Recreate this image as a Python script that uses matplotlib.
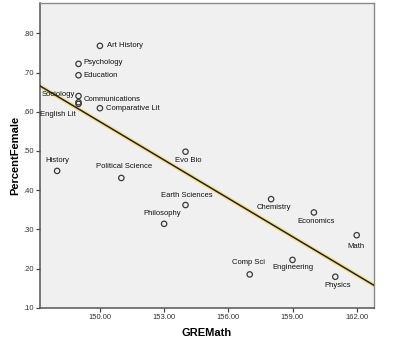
import matplotlib
matplotlib.use('Agg')
import matplotlib.pyplot as plt
import numpy as np

plt.rcParams['font.family'] = ['Liberation Sans', 'DejaVu Sans']

# Fields: GRE math score vs share of female students
fields = ['Art History', 'Psychology', 'Education', 'Sociology', 'Communications',
          'English Lit', 'Comparative Lit', 'Evo Bio', 'History', 'Political Science',
          'Earth Sciences', 'Philosophy', 'Chemistry', 'Economics', 'Math',
          'Comp Sci', 'Engineering', 'Physics']
gre_math = [150.0, 149.0, 149.0, 149.0, 149.0, 149.0, 150.0, 154.0, 148.0, 151.0,
            154.0, 153.0, 158.0, 160.0, 162.0, 157.0, 159.0, 161.0]
pct_female = [0.768, 0.722, 0.693, 0.640, 0.624, 0.620, 0.609, 0.498, 0.449, 0.431,
              0.362, 0.314, 0.377, 0.343, 0.285, 0.185, 0.222, 0.179]

x_ticks = [150, 153, 156, 159, 162]
y_ticks = [0.10, 0.20, 0.30, 0.40, 0.50, 0.60, 0.70, 0.80]

# label placement (offset in pixels, alignment)
label_pos = {
    'Art History': ((7, 0), 'left'),
    'Psychology': ((5, 1), 'left'),
    'Education': ((5, 0), 'left'),
    'Sociology': ((-3, 2), 'right'),
    'Communications': ((5, 3), 'left'),
    'English Lit': ((-3, -11), 'right'),
    'Comparative Lit': ((6, 0), 'left'),
    'Evo Bio': ((3, -8.5), 'center'),
    'History': ((0, 10.5), 'center'),
    'Political Science': ((3, 11), 'center'),
    'Earth Sciences': ((1, 10), 'center'),
    'Philosophy': ((-2, 10.5), 'center'),
    'Chemistry': ((3, -8.5), 'center'),
    'Economics': ((2, -9.5), 'center'),
    'Math': ((-1, -11), 'center'),
    'Comp Sci': ((-1, 12), 'center'),
    'Engineering': ((0, -8), 'center'),
    'Physics': ((2, -8.5), 'center'),
}

fig = plt.figure(figsize=(3.96, 3.45), dpi=100)
ax = fig.add_axes([0.101, 0.108, 0.843, 0.883])
ax.set_facecolor('#f0f0f0')

xlim = (147.2, 162.8)
ax.set_xlim(xlim)
ax.set_ylim(0.10, 0.877)

# least squares fit line across the full x range
slope, intercept = np.polyfit(gre_math, pct_female, 1)
xs = np.array(xlim)
ax.plot(xs, intercept + slope * xs, color='#f7e27a', lw=3.0, solid_capstyle='round', zorder=2)
ax.plot(xs, intercept + slope * xs, color='#1e2040', lw=1.1, zorder=3)

ax.scatter(gre_math, pct_female, s=15, facecolors='none', edgecolors='#3a3a3a',
           linewidths=0.9, zorder=4)

for name, xv, yv in zip(fields, gre_math, pct_female):
    off, ha = label_pos[name]
    ax.annotate(name, (xv, yv), xytext=off, textcoords='offset pixels',
                ha=ha, va='center', fontsize=5.5, color='#111111', zorder=5)

ax.set_xticks(x_ticks)
ax.set_xticklabels([f'{v:.2f}' for v in x_ticks])
ax.set_yticks(y_ticks)
ax.set_yticklabels([f'{v:.2f}'.lstrip('0') for v in y_ticks])
ax.tick_params(axis='both', direction='out', length=3, width=0.9, color='#444444',
               labelsize=5.5, labelcolor='#333333', pad=1.5)

for side in ['left', 'bottom']:
    ax.spines[side].set_color('#555555')
    ax.spines[side].set_linewidth(1.1)
for side in ['top', 'right']:
    ax.spines[side].set_color('#8a8a8a')
    ax.spines[side].set_linewidth(1.0)

ax.set_xlabel('GREMath', fontsize=8, fontweight='bold', labelpad=5)
ax.set_ylabel('PercentFemale', fontsize=8, fontweight='bold', labelpad=2.5)

fig.savefig('out.png', dpi=100)
